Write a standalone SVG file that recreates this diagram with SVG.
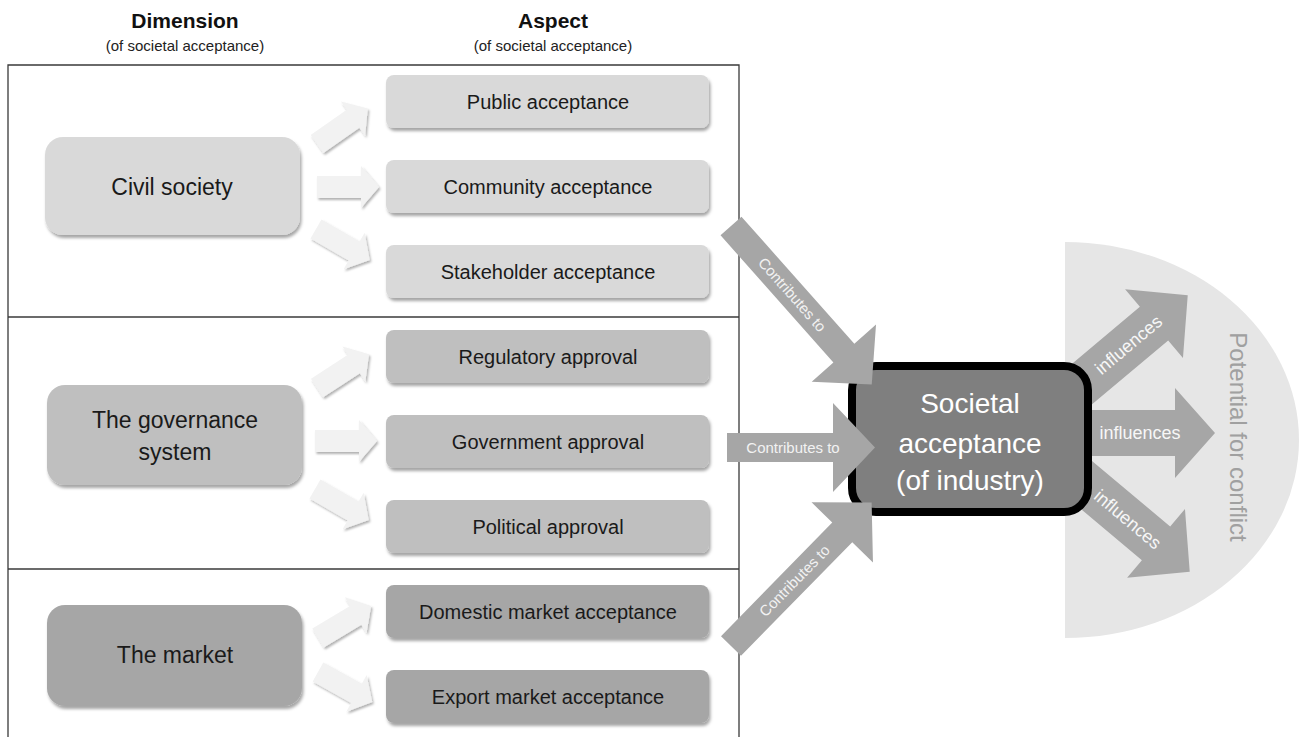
<svg xmlns="http://www.w3.org/2000/svg" xmlns:xlink="http://www.w3.org/1999/xlink" width="1299" height="737" viewBox="0 0 1299 737">
<style>
text{font-family:"Liberation Sans","Open Sans",Arial,sans-serif;}
.hd{font-size:21px;font-weight:bold;fill:#111;text-anchor:middle;}
.sub{font-size:15px;fill:#222;text-anchor:middle;}
.dim{font-size:23px;fill:#1a1a1a;text-anchor:middle;}
.asp{font-size:20px;fill:#1a1a1a;text-anchor:middle;}
.c1{fill:#d9d9d9;}
.c2{fill:#bfbfbf;}
.c3{fill:#a6a6a6;}
.big{fill:#a6a6a6;}
.lbl{font-size:15px;fill:#f2f2f2;text-anchor:middle;}
.inf{font-size:18px;fill:#f7f7f7;text-anchor:middle;}
.small{fill:#f2f2f2;}
.frame{fill:none;stroke:#3a3a3a;stroke-width:1.3;}
</style>
<defs>
<filter id="sh" x="-10%" y="-10%" width="130%" height="150%">
<feDropShadow dx="1.5" dy="3" stdDeviation="1.5" flood-color="#000" flood-opacity="0.35"/>
</filter>
<filter id="sh2" x="-20%" y="-40%" width="150%" height="200%">
<feDropShadow dx="1.5" dy="2" stdDeviation="1.2" flood-color="#000" flood-opacity="0.3"/>
</filter>
<path id="sa" d="M0,-11 H44 V-21 L62,0 L44,21 V11 H0 Z"/>
</defs>

<rect width="1299" height="737" fill="#ffffff"/>

<g id="headers">
<text class="hd" x="185" y="28">Dimension</text>
<text class="sub" x="185" y="51">(of societal acceptance)</text>
<text class="hd" x="553" y="28">Aspect</text>
<text class="sub" x="553" y="51">(of societal acceptance)</text>
</g>

<g id="frame">
<path class="frame" d="M8,740 V65 H739 V740"/>
<line class="frame" x1="8" y1="317" x2="739" y2="317"/>
<line class="frame" x1="8" y1="569" x2="739" y2="569"/>
</g>

<g id="potential-for-conflict">
<path d="M1065,242 A234,198 0 0 1 1065,638 Z" fill="#e6e6e6"/>
<text transform="translate(1230,437) rotate(90)" font-size="24" fill="#a0a0a0" text-anchor="middle">Potential for conflict</text>
</g>

<g id="connectors-influences" class="connectors">
<g transform="translate(1069,395) rotate(-40)">
<path class="big" d="M0,-22 H111 V-45 L155,0 L111,45 V22 H0 Z"/>
<text class="inf" x="78" y="6">influences</text>
</g>
<path class="big" d="M1080,410 H1175 V388 L1215,433 L1175,478 V456 H1080 Z"/>
<text class="inf" x="1140" y="439">influences</text>
<g transform="translate(1071,472) rotate(40)">
<path class="big" d="M0,-22 H111 V-45 L155,0 L111,45 V22 H0 Z"/>
<text class="inf" x="74" y="6">influences</text>
</g>
</g>

<g id="societal-acceptance">
<rect x="852" y="366" width="236" height="146" rx="24" fill="#7f7f7f" stroke="#000" stroke-width="8"/>
<text x="970" y="413" font-size="28" fill="#fff" text-anchor="middle">Societal</text>
<text x="970" y="453" font-size="28" fill="#fff" text-anchor="middle">acceptance</text>
<text x="970" y="490" font-size="28" fill="#fff" text-anchor="middle">(of industry)</text>
</g>

<g id="civil-society">
<rect class="c1" x="45" y="137" width="255" height="98" rx="18" filter="url(#sh)"/>
<text class="dim" x="172" y="195">Civil society</text>
</g>
<g id="governance-system">
<rect class="c2" x="47" y="385" width="255" height="100" rx="18" filter="url(#sh)"/>
<text class="dim" x="175" y="428">The governance</text>
<text class="dim" x="175" y="460">system</text>
</g>
<g id="market">
<rect class="c3" x="47" y="605" width="255" height="101" rx="18" filter="url(#sh)"/>
<text class="dim" x="175" y="663">The market</text>
</g>

<g id="public-acceptance">
<rect class="c1" x="386" y="75" width="323" height="53" rx="8" filter="url(#sh)"/>
<text class="asp" x="548" y="108.5">Public acceptance</text>
</g>
<g id="community-acceptance">
<rect class="c1" x="386" y="160" width="323" height="53" rx="8" filter="url(#sh)"/>
<text class="asp" x="548" y="193.5">Community acceptance</text>
</g>
<g id="stakeholder-acceptance">
<rect class="c1" x="386" y="245" width="323" height="53" rx="8" filter="url(#sh)"/>
<text class="asp" x="548" y="278.5">Stakeholder acceptance</text>
</g>
<g id="regulatory-approval">
<rect class="c2" x="386" y="330" width="323" height="53" rx="8" filter="url(#sh)"/>
<text class="asp" x="548" y="363.5">Regulatory approval</text>
</g>
<g id="government-approval">
<rect class="c2" x="386" y="415" width="323" height="53" rx="8" filter="url(#sh)"/>
<text class="asp" x="548" y="448.5">Government  approval</text>
</g>
<g id="political-approval">
<rect class="c2" x="386" y="500" width="323" height="53" rx="8" filter="url(#sh)"/>
<text class="asp" x="548" y="533.5">Political approval</text>
</g>
<g id="domestic-market-acceptance">
<rect class="c3" x="386" y="585" width="323" height="53" rx="8" filter="url(#sh)"/>
<text class="asp" x="548" y="618.5">Domestic market acceptance</text>
</g>
<g id="export-market-acceptance">
<rect class="c3" x="386" y="670" width="323" height="53" rx="8" filter="url(#sh)"/>
<text class="asp" x="548" y="703.5">Export market acceptance</text>
</g>

<g id="connectors">
<g class="small" filter="url(#sh2)">
<use xlink:href="#sa" href="#sa" transform="translate(317,144) rotate(-35)"/>
<use xlink:href="#sa" href="#sa" transform="translate(317,187)"/>
<use xlink:href="#sa" href="#sa" transform="translate(316,229) rotate(30)"/>
<use xlink:href="#sa" href="#sa" transform="translate(317,388) rotate(-33)"/>
<use xlink:href="#sa" href="#sa" transform="translate(315,441)"/>
<use xlink:href="#sa" href="#sa" transform="translate(315,489) rotate(30)"/>
<use xlink:href="#sa" href="#sa" transform="translate(318,638) rotate(-31)"/>
<use xlink:href="#sa" href="#sa" transform="translate(318,672) rotate(29)"/>
</g>
<g transform="translate(731,226) rotate(48.4)">
<path class="big" d="M0,-14 H170 V-43 L212,0 L170,43 V14 H0 Z"/>
<text class="lbl" x="92" y="5">Contributes to</text>
</g>
<path class="big" d="M727,433 H833 V403 L875,447.5 L833,492 V462 H727 Z"/>
<text class="lbl" x="793" y="453">Contributes to</text>
<g transform="translate(731,646) rotate(-45.6)">
<path class="big" d="M0,-14 H159 V-43 L201,0 L159,43 V14 H0 Z"/>
<text class="lbl" x="91" y="5">Contributes to</text>
</g>
</g>
</svg>
